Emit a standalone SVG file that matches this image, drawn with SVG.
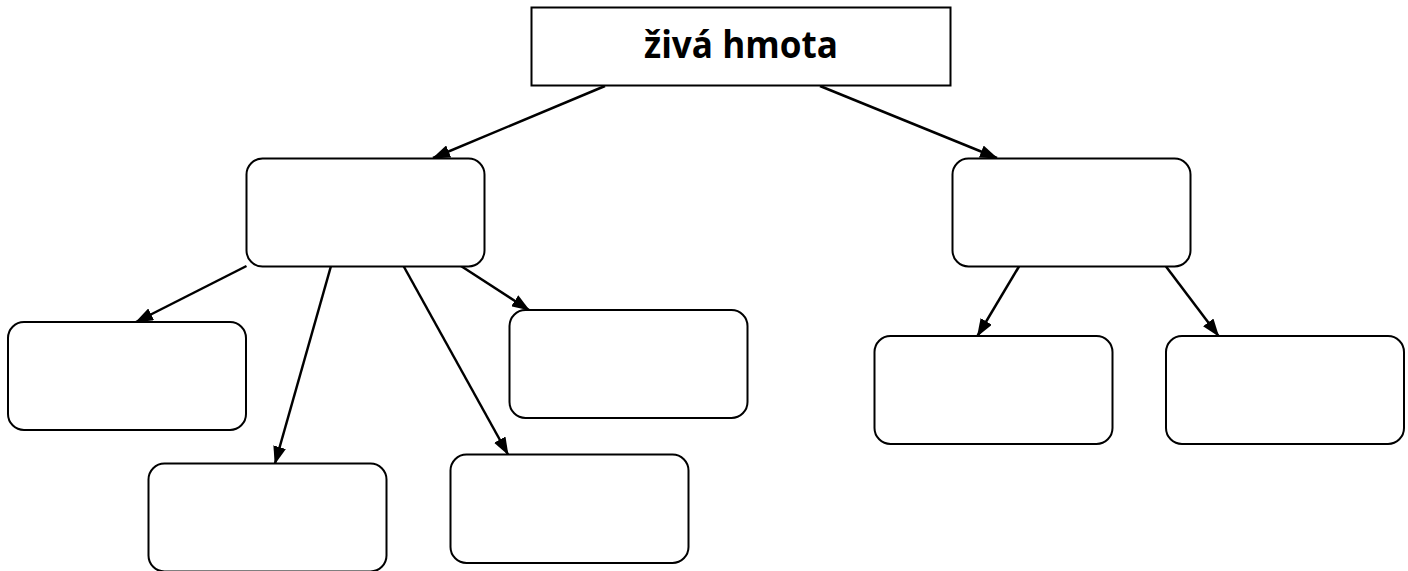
<svg xmlns="http://www.w3.org/2000/svg" width="1408" height="571" viewBox="0 0 1408 571">
  <defs>
    <style>
      .box { fill: #ffffff; stroke: #000000; stroke-width: 2; }
      .conn { stroke: #000000; stroke-width: 2.5; fill: none; marker-end: url(#arrow); }
      .title { font-family: "Open Sans", "Liberation Sans", Arial, sans-serif; font-weight: bold; font-size: 37px; fill: #000000; }
    </style>
    <marker id="arrow" viewBox="0 0 18 13" refX="17" refY="6.5" markerWidth="18" markerHeight="13" markerUnits="userSpaceOnUse" orient="auto">
      <path d="M0,0 L18,6.5 L0,13 z" fill="#000000"/>
    </marker>
  </defs>
  <rect x="0" y="0" width="1408" height="571" fill="#ffffff"/>

  <g id="connectors">
    <line class="conn" x1="605" y1="86" x2="433" y2="158"/>
    <line class="conn" x1="820" y1="86" x2="997" y2="158"/>
    <line class="conn" x1="246.5" y1="266" x2="136" y2="322"/>
    <line class="conn" x1="331" y1="266" x2="275" y2="463.5"/>
    <line class="conn" x1="403.5" y1="266" x2="508" y2="454.5"/>
    <line class="conn" x1="461" y1="266" x2="529" y2="310"/>
    <line class="conn" x1="1019" y1="266.5" x2="977.5" y2="336"/>
    <line class="conn" x1="1166" y1="266.5" x2="1218.5" y2="336"/>
  </g>

  <g id="node-root">
    <rect x="531.5" y="7.5" width="419" height="78" fill="#ffffff" stroke="#000000" stroke-width="2"/>
    <text class="title" x="741" y="58" text-anchor="middle" textLength="194" lengthAdjust="spacingAndGlyphs">živá hmota</text>
  </g>
  <g id="node-a"><rect class="box" x="246.5" y="158.5" width="238" height="108" rx="16" ry="16"/></g>
  <g id="node-b"><rect class="box" x="952.5" y="158.5" width="238" height="108" rx="16" ry="16"/></g>
  <g id="node-c"><rect class="box" x="8" y="322" width="238" height="108" rx="16" ry="16"/></g>
  <g id="node-d"><rect class="box" x="148.5" y="463.5" width="238" height="108" rx="16" ry="16"/></g>
  <g id="node-e"><rect class="box" x="450.5" y="454.5" width="238" height="108.5" rx="16" ry="16"/></g>
  <g id="node-f"><rect class="box" x="509.5" y="310" width="238" height="108" rx="16" ry="16"/></g>
  <g id="node-g"><rect class="box" x="874.5" y="336" width="238" height="108" rx="16" ry="16"/></g>
  <g id="node-h"><rect class="box" x="1166" y="336" width="238" height="108" rx="16" ry="16"/></g>
</svg>
